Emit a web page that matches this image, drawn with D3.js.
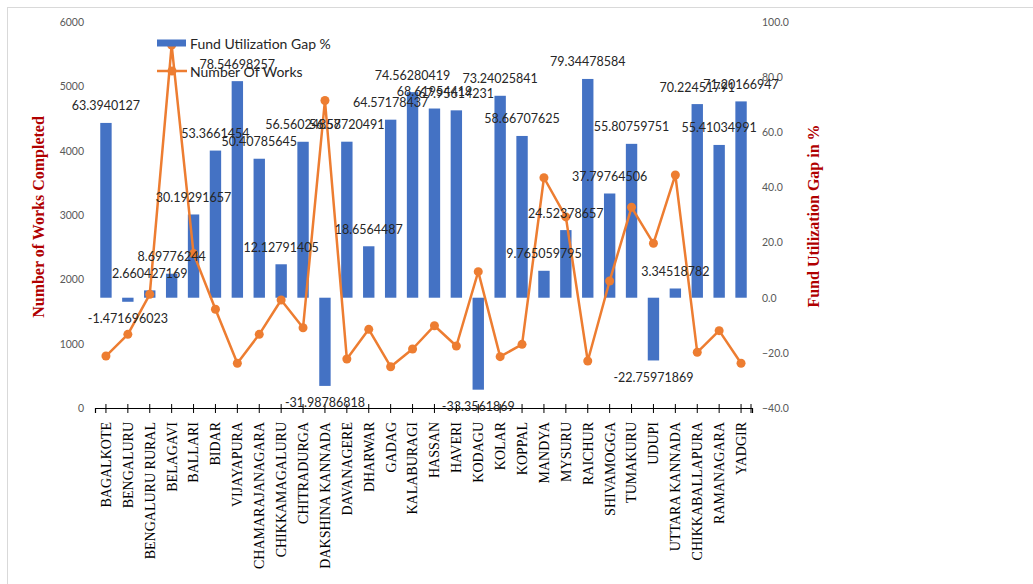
<!DOCTYPE html>
<html>
<head>
<meta charset="utf-8">
<script src="https://cdn.jsdelivr.net/npm/d3@7"></script>
<style>
  html, body { margin: 0; padding: 0; background: #fff; }
  svg { display: block; }
</style>
</head>
<body>
<svg id="chart" width="1033" height="584"></svg>
<script>
// District-wise fund utilization gap (%) and number of works completed
const categories = ["BAGALKOTE","BENGALURU","BENGALURU RURAL","BELAGAVI","BALLARI","BIDAR","VIJAYAPURA",
  "CHAMARAJANAGARA","CHIKKAMAGALURU","CHITRADURGA","DAKSHINA KANNADA","DAVANAGERE","DHARWAR","GADAG",
  "KALABURAGI","HASSAN","HAVERI","KODAGU","KOLAR","KOPPAL","MANDYA","MYSURU","RAICHUR","SHIVAMOGGA",
  "TUMAKURU","UDUPI","UTTARA KANNADA","CHIKKABALLAPURA","RAMANAGARA","YADGIR"];

const gapPct = [63.3940127, -1.471696023, 2.660427169, 8.69776244, 30.19291657, 53.3661454, 78.54698257,
  50.40785645, 12.12791405, 56.56024857, -31.98786818, 56.58720491, 18.6564487, 64.57178437,
  74.56280419, 68.61954419, 67.95614231, -33.3561869, 73.24025841, 58.66707625, 9.765059795,
  24.52378657, 79.34478584, 37.79764506, 55.80759751, -22.75971869, 3.34518782, 70.22451791,
  55.41034991, 71.20166947];

const worksCompleted = [808, 1145, 1767, 5640, 2400, 1535, 695, 1145, 1679, 1248, 4780, 762, 1223, 642,
  917, 1279, 964, 2119, 798, 990, 3579, 2970, 731, 1974, 3120, 2560, 3622, 866, 1202, 695];

const leftTicks = [0, 1000, 2000, 3000, 4000, 5000, 6000];
const rightTicks = [-40, -20, 0, 20, 40, 60, 80, 100];

const seriesNames = ["Fund Utilization Gap %", "Number Of Works"];
const leftTitle = "Number of Works Completed";
const rightTitle = "Fund Utilization Gap in %";

const BLUE = "#4472C4", ORANGE = "#ED7D31", TITLE_RED = "#B00000";

const svg = d3.select("#chart");

// outer chart frame
svg.append("rect").attr("x", 7.5).attr("y", 7.5).attr("width", 1060).attr("height", 600)
  .attr("fill", "none").attr("stroke", "#d9d9d9").attr("stroke-width", 1);

const x = d3.scaleBand().domain(categories).range([95, 752]).paddingInner(0.48).paddingOuter(0.24);
const yLeft = d3.scaleLinear().domain([0, 6000]).range([408, 22]);
const yRight = d3.scaleLinear().domain([-40, 100]).range([408, 22]);
const cx = d => x(d) + x.bandwidth() / 2;

// left axis labels
const gl = svg.append("g").attr("transform", "translate(84,0)")
  .call(d3.axisLeft(yLeft).tickValues(leftTicks).tickSize(0).tickPadding(0).tickFormat(d3.format("d")));
gl.select(".domain").remove();
gl.selectAll("text").attr("font-family", "Lato, 'Open Sans', sans-serif").attr("font-size", 10.5).attr("fill", "#595959");

// right axis labels
const gr = svg.append("g").attr("transform", "translate(762,0)")
  .call(d3.axisRight(yRight).tickValues(rightTicks).tickSize(0).tickPadding(0).tickFormat(d3.format(".1f")));
gr.select(".domain").remove();
gr.selectAll("text").attr("font-family", "Lato, 'Open Sans', sans-serif").attr("font-size", 10.5).attr("fill", "#595959");

// bars
svg.append("g").selectAll("rect").data(categories).join("rect")
  .attr("x", d => x(d))
  .attr("width", x.bandwidth())
  .attr("y", (d, i) => Math.min(yRight(gapPct[i]), yRight(0)))
  .attr("height", (d, i) => Math.abs(yRight(gapPct[i]) - yRight(0)))
  .attr("fill", BLUE);

// category axis with ticks crossing the line
const gx = svg.append("g").attr("transform", "translate(0,408)")
  .call(d3.axisBottom(x).tickSizeOuter(0).tickSize(5));
gx.select(".domain").attr("stroke", "#000").attr("stroke-width", 1.2);
gx.selectAll(".tick line").attr("y1", -4).attr("y2", 5).attr("stroke", "#000");
gx.append("line").attr("x1", 751).attr("x2", 751).attr("y1", -4).attr("y2", 5).attr("stroke", "#000");
gx.selectAll(".tick text")
  .attr("transform", "rotate(-90)")
  .attr("x", -14).attr("y", 0).attr("dy", "0.35em")
  .attr("text-anchor", "end")
  .attr("font-family", "'Liberation Serif', 'Times New Roman', serif")
  .attr("font-size", 14).attr("fill", "#000");

// works line and markers
const line = d3.line().x(d => cx(d.c)).y(d => yLeft(d.v));
const pts = categories.map((c, i) => ({ c, v: worksCompleted[i] }));
svg.append("path").datum(pts).attr("d", line)
  .attr("fill", "none").attr("stroke", ORANGE).attr("stroke-width", 2.5).attr("stroke-linejoin", "round");
svg.append("g").selectAll("circle").data(pts).join("circle")
  .attr("cx", d => cx(d.c)).attr("cy", d => yLeft(d.v)).attr("r", 4.5).attr("fill", ORANGE);

// value labels for the gap bars
svg.append("g").selectAll("text").data(categories).join("text")
  .attr("x", d => cx(d))
  .attr("y", (d, i) => gapPct[i] >= 0 ? yRight(gapPct[i]) - 17 : yRight(gapPct[i]) + 17)
  .attr("dominant-baseline", "central")
  .attr("text-anchor", "middle")
  .attr("font-family", "Lato, 'Open Sans', sans-serif")
  .attr("font-size", 12.5).attr("fill", "#262626")
  .text((d, i) => String(gapPct[i]));

// axis titles
svg.append("text")
  .attr("transform", "translate(38,217) rotate(-90)")
  .attr("text-anchor", "middle")
  .attr("dominant-baseline", "central")
  .attr("font-family", "'Liberation Serif', 'Times New Roman', serif")
  .attr("font-weight", "bold").attr("font-size", 16).attr("fill", TITLE_RED)
  .text(leftTitle);
svg.append("text")
  .attr("transform", "translate(813,216) rotate(-90)")
  .attr("text-anchor", "middle")
  .attr("dominant-baseline", "central")
  .attr("font-family", "'Liberation Serif', 'Times New Roman', serif")
  .attr("font-weight", "bold").attr("font-size", 16).attr("fill", TITLE_RED)
  .text(rightTitle);

// legend
const lg = svg.append("g");
lg.append("rect").attr("x", 157).attr("y", 39.5).attr("width", 29).attr("height", 7).attr("fill", BLUE);
lg.append("text").attr("x", 190).attr("y", 43).attr("dominant-baseline", "central")
  .attr("font-family", "Lato, 'Open Sans', sans-serif").attr("font-size", 14).attr("fill", "#262626")
  .text(seriesNames[0]);
lg.append("line").attr("x1", 157).attr("x2", 187).attr("y1", 71).attr("y2", 71)
  .attr("stroke", ORANGE).attr("stroke-width", 2.5);
lg.append("circle").attr("cx", 172).attr("cy", 71).attr("r", 4.5).attr("fill", ORANGE);
lg.append("text").attr("x", 190).attr("y", 71).attr("dominant-baseline", "central")
  .attr("font-family", "Lato, 'Open Sans', sans-serif").attr("font-size", 14).attr("fill", "#262626")
  .text(seriesNames[1]);
</script>
</body>
</html>
